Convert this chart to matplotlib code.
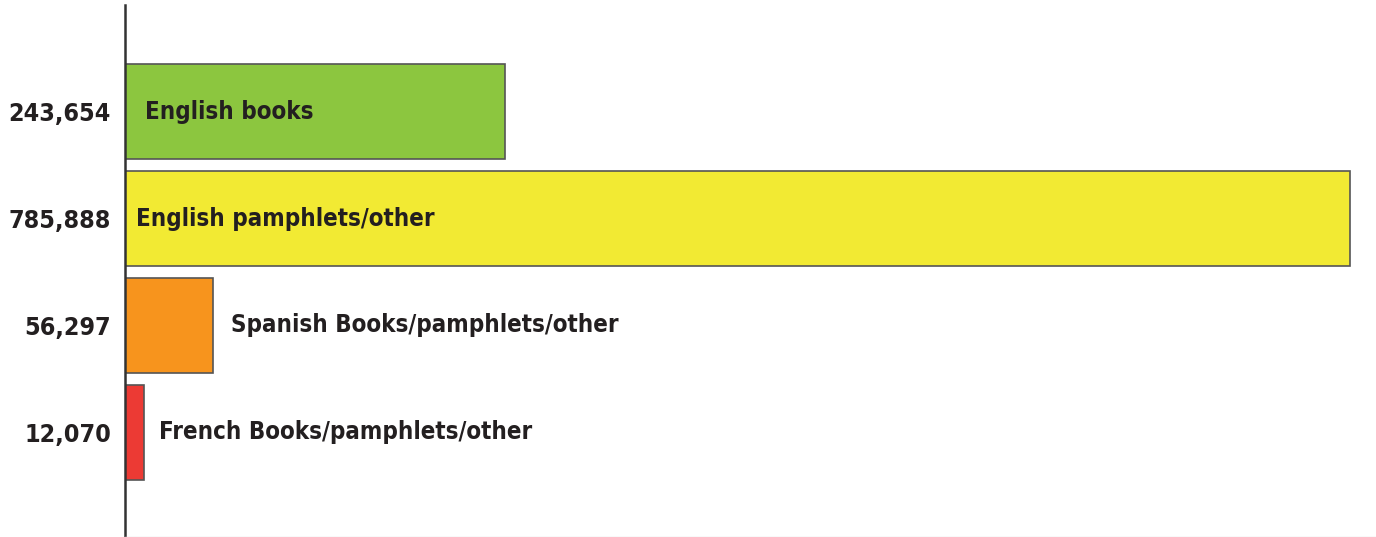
import matplotlib.pyplot as plt
from matplotlib import font_manager

# data
categories = ["English books", "English pamphlets/other",
              "Spanish Books/pamphlets/other", "French Books/pamphlets/other"]
counts = [243654, 785888, 56297, 12070]
count_labels = ["243,654", "785,888", "56,297", "12,070"]
colors = ["#8CC63F", "#F2EA33", "#F7941D", "#EC3A34"]

# pick a condensed bold font if we have one
names = set(f.name for f in font_manager.fontManager.ttflist)
if "Liberation Sans Narrow" in names:
    fam = "Liberation Sans Narrow"
    stretch = "normal"
else:
    fam = "DejaVu Sans"
    stretch = "condensed"

fig = plt.figure(figsize=(13.76, 5.37), dpi=100)
ax = fig.add_axes([125/1376, 0, 1 - 125/1376, 1 - 5/537])

ypos = list(range(len(counts)))
ax.barh(ypos, counts, height=0.89, color=colors, edgecolor="#555555", linewidth=1.2)

ax.set_xlim(0, 802500)
ax.set_ylim(3.98, -1.0)

# category labels: inside the big bars, right of the small ones
inside = [True, True, False, False]
offs = [14.5, 8, 13, 11]
for i, (v, name) in enumerate(zip(counts, categories)):
    x = 0 if inside[i] else v
    ax.annotate(name, (x, i), xytext=(offs[i], 0), textcoords="offset points",
                va="center", ha="left", fontsize=17.3, fontweight="bold",
                family=fam, fontstretch=stretch, color="#231F20")

ax.set_yticks(ypos)
ax.set_yticklabels(count_labels, fontsize=18, fontweight="bold", family=fam,
                   fontstretch=stretch, color="#231F20")
ax.tick_params(axis="y", length=0, pad=10)
ax.set_xticks([])

for s in ["top", "right"]:
    ax.spines[s].set_visible(False)
ax.spines["left"].set_color("#333333")
ax.spines["left"].set_linewidth(1.8)
ax.spines["bottom"].set_color("#e4e4e4")
ax.spines["bottom"].set_linewidth(1)

fig.savefig("out.png", dpi=100)
